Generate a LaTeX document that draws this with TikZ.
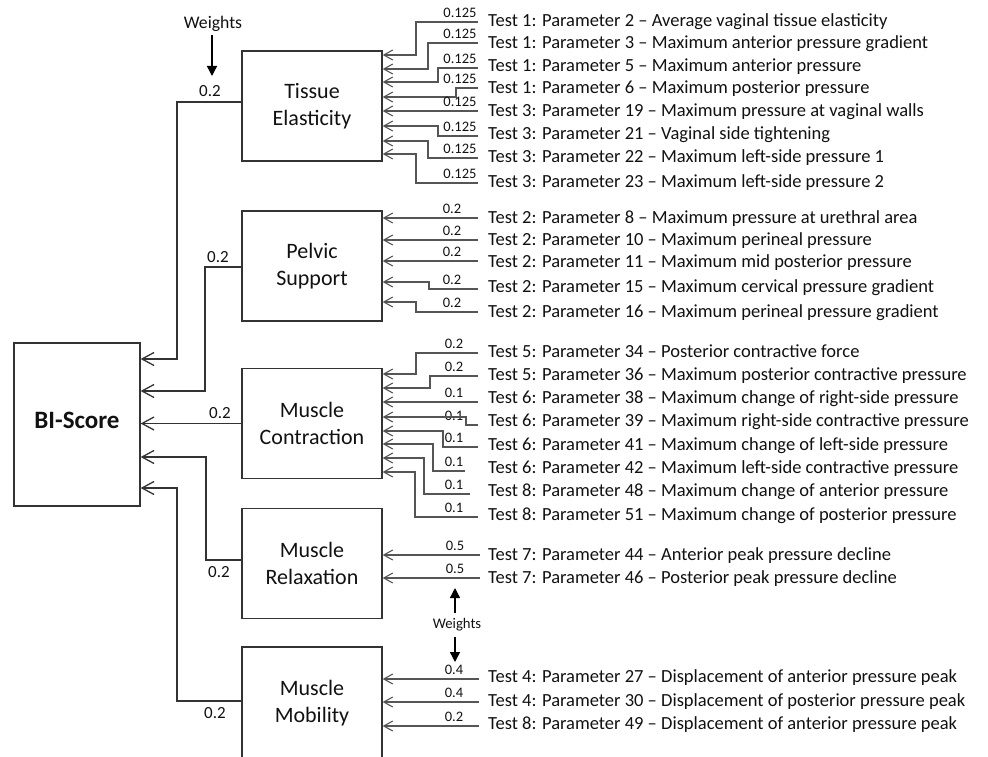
\documentclass[tikz,border=0pt]{standalone}
\usepackage{fontspec}
\setmainfont{Carlito}
\usetikzlibrary{arrows.meta}
\definecolor{boxline}{HTML}{333333}
\definecolor{inline}{HTML}{555555}
\definecolor{txt}{HTML}{111111}
\newcommand\wx{460}
\newcommand\lx{478}
% #1 name, #2 box, #3 line y, #4 bend x, #5 arrow y, #6 weight, #7 text baseline, #8 text
\newcommand\inrow[8]{%
  \node[param] (#1) at (488,#7) {#8};
  \coordinate (#1s) at (\lx,#3);
  \node[wt] (#1w) at (\wx,#3-4.5) {#6};
  \draw[inp] (#1s) -| (#4,#5) -- (#2.east |- 0,#5);
}
\begin{document}
\begin{tikzpicture}[x=1pt,y=-1pt,
  every node/.style={text=txt},
  modbox/.style={draw=boxline, line width=1.3pt, minimum width=140pt, minimum height=110pt,
    inner sep=0pt, align=center, font=\fontsize{22}{26.5}\selectfont},
  bibox/.style={draw=boxline, line width=1.3pt, minimum width=126pt, minimum height=163pt, inner sep=0pt},
  bitext/.style={font=\fontsize{25}{30}\selectfont\bfseries, inner sep=0pt},
  param/.style={anchor=base west, inner sep=0pt, font=\fontsize{18.5}{22}\selectfont},
  wt/.style={anchor=base, inner sep=0pt, font=\fontsize{14.5}{17}\selectfont},
  mwt/.style={anchor=base, inner sep=0pt, font=\fontsize{17}{20}\selectfont},
  inp/.style={draw=inline, line width=1.1pt, -{Straight Barb[length=9pt,width=10pt]}},
  tobi/.style={draw=boxline, line width=1.3pt, -{Straight Barb[length=12pt,width=13pt]}},
  warr/.style={draw=black, line width=1.4pt, -{Triangle[length=10pt,width=10pt]}}
]
\useasboundingbox (0,0) rectangle (988,757);

% main boxes
\node[bibox] (bi) at (77,424.5) {};
\node[bitext] (bil) at (77,420) {BI-Score};
\node[modbox] (tis) at (312,106) {Tissue\\Elasticity};
\node[modbox] (pel) at (312,266) {Pelvic\\Support};
\node[modbox] (con) at (312,423.5) {Muscle\\Contraction};
\node[modbox] (rel) at (312,563.5) {Muscle\\Relaxation};
\node[modbox, minimum height=112pt] (mob) at (312,703) {Muscle\\Mobility};

% module -> BI-Score
\draw[tobi] (tis.west |- 0,102) -| (177,359) -- (bi.east |- 0,359);
\draw[tobi] (pel.west |- 0,267) -| (205,391) -- (bi.east |- 0,391);
\draw[tobi] (con.west) -- (bi.east |- con.west);
\draw[tobi] (rel.west |- 0,560) -| (206,457) -- (bi.east |- 0,457);
\draw[tobi] (mob.west |- 0,701) -| (177,488) -- (bi.east |- 0,488);

\node[mwt] (w1) at (210,97) {0.2};
\node[mwt] (w2) at (218,262) {0.2};
\node[mwt] (w3) at (220,418) {0.2};
\node[mwt] (w4) at (219,577) {0.2};
\node[mwt] (w5) at (215,718) {0.2};

% top weights
\node[anchor=base, inner sep=0pt, font=\fontsize{17.7}{21}\selectfont] (wtop) at (213,29) {Weights};
\coordinate (wtopend) at (212,76);
\draw[warr] (212,35) -- (wtopend);

% bottom weights
\node[anchor=base, inner sep=0pt, font=\fontsize{14.7}{17}\selectfont] (wbot) at (457,628) {Weights};
\coordinate (wbotup) at (455,588);
\coordinate (wbotdn) at (455,662);
\draw[warr] (455,613) -- (wbotup);
\draw[warr] (455,637) -- (wbotdn);

% Tissue Elasticity inputs
\renewcommand\wx{460}\renewcommand\lx{478}
\inrow{a1}{tis}{22}{416}{55}{0.125}{27}{Test 1: Parameter 2 – Average vaginal tissue elasticity}
\inrow{a2}{tis}{43}{428}{69}{0.125}{49}{Test 1: Parameter 3 – Maximum anterior pressure gradient}
\inrow{a3}{tis}{68}{438}{82}{0.125}{72}{Test 1: Parameter 5 – Maximum anterior pressure}
\inrow{a4}{tis}{88}{456}{97}{0.125}{94}{Test 1: Parameter 6 – Maximum posterior pressure}
\inrow{a5}{tis}{111}{440}{111}{0.125}{117}{Test 3: Parameter 19 – Maximum pressure at vaginal walls}
\inrow{a6}{tis}{136}{438}{126}{0.125}{140}{Test 3: Parameter 21 – Vaginal side tightening}
\inrow{a7}{tis}{158}{428}{141}{0.125}{163}{Test 3: Parameter 22 – Maximum left-side pressure 1}
\inrow{a8}{tis}{183}{416}{154}{0.125}{187}{Test 3: Parameter 23 – Maximum left-side pressure 2}

% Pelvic Support inputs
\renewcommand\wx{452}
\inrow{b1}{pel}{218}{440}{218}{0.2}{223}{Test 2: Parameter 8 – Maximum pressure at urethral area}
\inrow{b2}{pel}{240}{440}{240}{0.2}{245}{Test 2: Parameter 10 – Maximum perineal pressure}
\inrow{b3}{pel}{261}{440}{261}{0.2}{267}{Test 2: Parameter 11 – Maximum mid posterior pressure}
\inrow{b4}{pel}{289}{429}{282}{0.2}{292}{Test 2: Parameter 15 – Maximum cervical pressure gradient}
\inrow{b5}{pel}{312}{416}{302}{0.2}{317}{Test 2: Parameter 16 – Maximum perineal pressure gradient}

% Muscle Contraction inputs
\renewcommand\wx{454}
\inrow{c1}{con}{353}{416}{374}{0.2}{357}{Test 5: Parameter 34 – Posterior contractive force}
\inrow{c2}{con}{376}{430}{388}{0.2}{380}{Test 5: Parameter 36 – Maximum posterior contractive pressure}
\inrow{c3}{con}{402}{440}{402}{0.1}{403}{Test 6: Parameter 38 – Maximum change of right-side pressure}
\inrow{c4}{con}{425}{466}{417}{0.1}{426}{Test 6: Parameter 39 – Maximum right-side contractive pressure}
\inrow{c5}{con}{447}{443}{431}{0.1}{450}{Test 6: Parameter 41 – Maximum change of left-side pressure}
\renewcommand\lx{465}
\inrow{c6}{con}{471}{433}{444}{0.1}{473}{Test 6: Parameter 42 – Maximum left-side contractive pressure}
\renewcommand\lx{470}
\inrow{c7}{con}{494}{424}{458}{0.1}{496}{Test 8: Parameter 48 – Maximum change of anterior pressure}
\renewcommand\lx{478}
\inrow{c8}{con}{517}{415}{472}{0.1}{520}{Test 8: Parameter 51 – Maximum change of posterior pressure}

% Muscle Relaxation inputs
\renewcommand\wx{455}\renewcommand\lx{480}
\inrow{d1}{rel}{555}{440}{555}{0.5}{560}{Test 7: Parameter 44 – Anterior peak pressure decline}
\inrow{d2}{rel}{578}{440}{578}{0.5}{583}{Test 7: Parameter 46 – Posterior peak pressure decline}

% Muscle Mobility inputs
\renewcommand\wx{454}\renewcommand\lx{479}
\inrow{e1}{mob}{679}{440}{679}{0.4}{682}{Test 4: Parameter 27 – Displacement of anterior pressure peak}
\inrow{e2}{mob}{702}{440}{702}{0.4}{706}{Test 4: Parameter 30 – Displacement of posterior pressure peak}
\inrow{e3}{mob}{726}{440}{726}{0.2}{729}{Test 8: Parameter 49 – Displacement of anterior pressure peak}
\end{tikzpicture}
\end{document}
